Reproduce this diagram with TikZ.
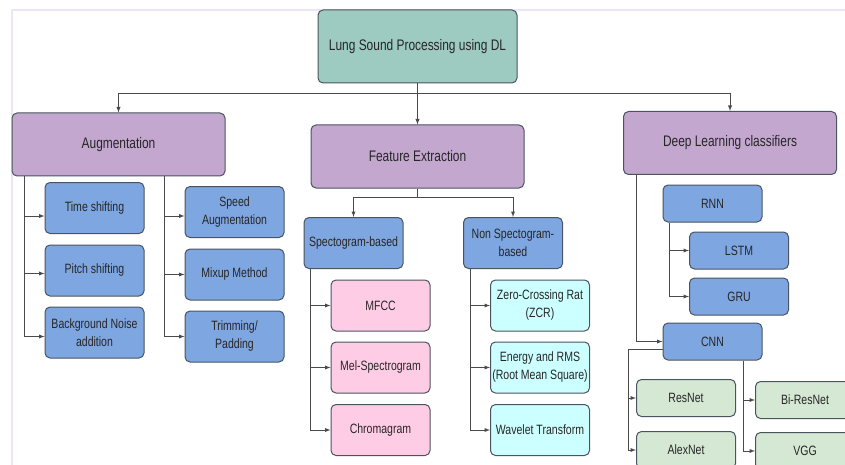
\documentclass[tikz,border=0pt]{standalone}
\usepackage{fontspec}
\setmainfont{Liberation Sans}[FakeStretch=0.78]
\usepackage{tikz}
\usetikzlibrary{arrows}
\usetikzlibrary{calc}
\usetikzlibrary{positioning}

\definecolor{rootfill}{HTML}{9DCAC1}
\definecolor{mainfill}{HTML}{C4A7CF}
\definecolor{bluefill}{HTML}{7EA6E0}
\definecolor{pinkfill}{HTML}{FFCCE6}
\definecolor{cyanfill}{HTML}{CCFFFF}
\definecolor{greenfill}{HTML}{D5E8D4}
\definecolor{boxline}{HTML}{4A5460}
\definecolor{linecol}{HTML}{4A4A4A}
\definecolor{framecol}{HTML}{EEE4F4}

\begin{document}
\begin{tikzpicture}[
	x=1pt, y=-1pt,
	> = latex,
	line width=0.9pt,
	box/.style = {draw=boxline, line width=1pt, rounded corners=5pt, align=center, inner sep=1pt, text=black!85, font=\fontsize{13.5}{18}\selectfont},
	rootbox/.style = {box, fill=rootfill, minimum width=199pt, minimum height=73pt, font=\fontsize{15.3}{19}\selectfont},
	mainbox/.style = {box, fill=mainfill, minimum width=213pt, minimum height=63pt, font=\fontsize{15.3}{19}\selectfont},
	subbox/.style = {box, minimum width=99pt, minimum height=51pt},
	netbox/.style = {box, minimum width=99pt, minimum height=37pt},
	link/.style = {draw=linecol, ->}
	]
	\useasboundingbox (0,0) rectangle (845,465);
	\clip (0,0) rectangle (845,465);

	\draw[framecol, line width=1.5pt] (12,465) -- (12,10) -- (845,10);

	\node[rootbox] (root) at (417.5,46.5) {Lung Sound Processing using DL};

	\node[mainbox] (aug) at (118.5,144.5) {Augmentation};
	\node[mainbox] (feat) at (417.5,156.5) {Feature Extraction};
	\node[mainbox] (dlc) at (730,143) {Deep Learning classifiers};

	% augmentation
	\node[subbox, fill=bluefill] (tshift) at (94.5,208) {Time shifting};
	\node[subbox, fill=bluefill] (pshift) at (94.5,270.5) {Pitch shifting};
	\node[subbox, fill=bluefill] (bgnoise) at (94.5,332.5) {Background Noise\\addition};
	\node[subbox, fill=bluefill] (speed) at (234.5,212) {Speed\\Augmentation};
	\node[subbox, fill=bluefill] (mixup) at (234.5,274.5) {Mixup Method};
	\node[subbox, fill=bluefill] (trim) at (234.5,336.5) {Trimming/\\Padding};

	% features
	\node[subbox, fill=bluefill] (spec) at (353.5,243) {Spectogram-based};
	\node[subbox, fill=bluefill] (nonspec) at (513,243) {Non Spectogram-\\based};
	\node[subbox, fill=pinkfill] (mfcc) at (380.5,305.5) {MFCC};
	\node[subbox, fill=pinkfill] (mel) at (380.5,367.5) {Mel-Spectrogram};
	\node[subbox, fill=pinkfill] (chroma) at (380.5,430) {Chromagram};
	\node[subbox, fill=cyanfill] (zcr) at (540,305.5) {Zero-Crossing Rat\\(ZCR)};
	\node[subbox, fill=cyanfill] (energy) at (540,367.5) {Energy and RMS\\(Root Mean Square)};
	\node[subbox, fill=cyanfill] (wavelet) at (540,430) {Wavelet Transform};

	% classifiers
	\node[netbox, fill=bluefill] (rnn) at (712.5,203.5) {RNN};
	\node[netbox, fill=bluefill] (lstm) at (739,250.5) {LSTM};
	\node[netbox, fill=bluefill] (gru) at (739,296.5) {GRU};
	\node[netbox, fill=bluefill] (cnn) at (712.5,341.5) {CNN};
	\node[netbox, fill=greenfill] (resnet) at (686,398) {ResNet};
	\node[netbox, fill=greenfill] (alexnet) at (686,450) {AlexNet};
	\node[netbox, fill=greenfill] (biresnet) at (805,400) {Bi-ResNet};
	\node[netbox, fill=greenfill] (vgg) at (805,451) {VGG};

	\draw[link] (root.south) -- ++(0,10) -| (aug.north);
	\draw[link] (root.south) -- ++(0,10) -| (dlc.north);
	\draw[link] (root) -- (feat);

	\coordinate (augA) at ($(aug.south west)+(13,0)$);
	\coordinate (augB) at ($(aug.south east)+(-61,0)$);
	\draw[link] (augA) |- ([yshift=-8pt]tshift.west);
	\draw[link] (augA) |- ([yshift=-3pt]pshift.west);
	\draw[link] (augA) |- ([yshift=-4pt]bgnoise.west);
	\draw[link] (augB) |- ([yshift=-4pt]speed.west);
	\draw[link] (augB) |- (mixup);
	\draw[link] (augB) |- (trim);

	\draw[link] (feat.south) -- ++(0,9) -| (spec.north);
	\draw[link] (feat.south) -- ++(0,9) -| (nonspec.north);
	\coordinate (specA) at ($(spec.south west)+(7,0)$);
	\coordinate (nonspecA) at ($(nonspec.south west)+(7,0)$);
	\draw[link] (specA) |- (mfcc);
	\draw[link] (specA) |- (mel);
	\draw[link] (specA) |- (chroma);
	\draw[link] (nonspecA) |- (zcr);
	\draw[link] (nonspecA) |- (energy);
	\draw[link] (nonspecA) |- (wavelet);

	\coordinate (dlcA) at ($(dlc.south west)+(13,0)$);
	\coordinate (rnnA) at ($(rnn.south west)+(7,0)$);
	\coordinate (cnnB) at ($(cnn.south east)+(-19,0)$);
	\draw[link] (dlcA) |- (cnn);
	\draw[link] (rnnA) |- (lstm);
	\draw[link] (rnnA) |- (gru);
	\draw[link] ([yshift=-8pt]cnn.west) -- ++(-34,0) |- (resnet);
	\draw[link] ([yshift=-8pt]cnn.west) -- ++(-34,0) |- (alexnet);
	\draw[link] (cnnB) |- (biresnet);
	\draw[link] (cnnB) |- (vgg);

\end{tikzpicture}
\end{document}
